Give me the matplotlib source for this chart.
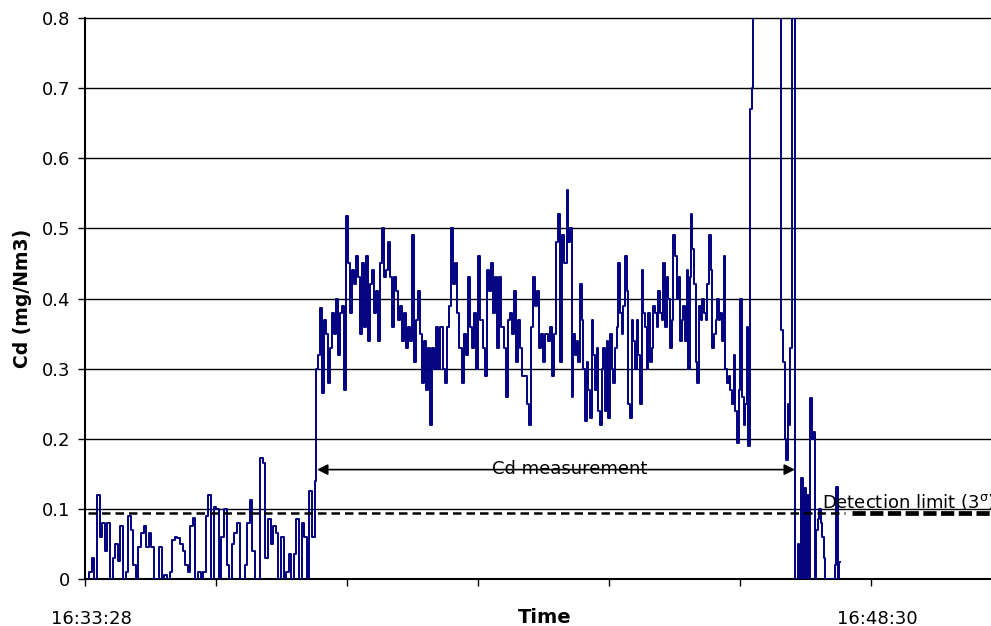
import numpy as np
import matplotlib
matplotlib.use("Agg")
import matplotlib.pyplot as plt
from matplotlib.transforms import ScaledTranslation

# ---------------- data (time in seconds after 16:33:28, Cd in mg/Nm3) ----------------
# background before the measurement (uniformly sampled between the two times)
baseline_span = (3.4, 265.0)
baseline_cd = [0.0, 0.01, 0.03, 0.0, 0.12, 0.06, 0.08, 0.04, 0.08, 0.0,
               0.03, 0.05, 0.025, 0.075, 0.0, 0.01, 0.09, 0.07, 0.02, 0.0,
               0.045, 0.065, 0.075, 0.045, 0.065, 0.045, 0.0, 0.0, 0.045, 0.0,
               0.005, 0.0, 0.01, 0.055, 0.06, 0.058, 0.05, 0.04, 0.02, 0.01,
               0.075, 0.087, 0.0, 0.01, 0.0, 0.01, 0.09, 0.12, 0.0, 0.103,
               0.1, 0.0, 0.06, 0.1, 0.02, 0.0, 0.05, 0.065, 0.08, 0.0,
               0.0, 0.02, 0.08, 0.112, 0.04, 0.0, 0.0, 0.172, 0.165, 0.03,
               0.085, 0.05, 0.075, 0.065, 0.0, 0.06, 0.0, 0.01, 0.035, 0.0,
               0.035, 0.085, 0.0, 0.08, 0.06, 0.0, 0.125, 0.06, 0.14]

meas_a_span = (265.9, 406.6)
meas_a_cd = [0.3, 0.32, 0.386, 0.265, 0.37, 0.35, 0.28, 0.33, 0.38, 0.35,
             0.4, 0.32, 0.38, 0.39, 0.27, 0.517, 0.45, 0.38, 0.44, 0.42,
             0.46, 0.43, 0.35, 0.45, 0.36, 0.46, 0.34, 0.42, 0.44, 0.38,
             0.41, 0.34, 0.45, 0.5, 0.43, 0.44, 0.48, 0.43, 0.36, 0.43,
             0.41, 0.37, 0.39, 0.34, 0.38, 0.33, 0.36, 0.34, 0.49, 0.31,
             0.37, 0.41, 0.35, 0.28, 0.34, 0.27, 0.33, 0.22, 0.33, 0.3,
             0.36, 0.3]

meas_b_span = (409.3, 548.9)
meas_b_cd = [0.36, 0.3, 0.28, 0.36, 0.39, 0.5, 0.42, 0.45, 0.38, 0.33,
             0.28, 0.35, 0.32, 0.43, 0.36, 0.33, 0.38, 0.3, 0.46, 0.37,
             0.33, 0.29, 0.44, 0.41, 0.45, 0.38, 0.43, 0.33, 0.43, 0.36,
             0.33, 0.26, 0.37, 0.38, 0.35, 0.41, 0.31, 0.37, 0.33, 0.29,
             0.29, 0.25, 0.22, 0.36, 0.43, 0.39, 0.41, 0.33, 0.35, 0.31,
             0.35, 0.34, 0.36, 0.29, 0.35, 0.48, 0.52, 0.31, 0.49]

meas_c_span = (551.6, 693.5)
meas_c_cd = [0.45, 0.555, 0.48, 0.5, 0.26, 0.35, 0.32, 0.34, 0.31, 0.42,
             0.37, 0.3, 0.225, 0.31, 0.27, 0.23, 0.37, 0.32, 0.27, 0.33,
             0.24, 0.22, 0.3, 0.33, 0.24, 0.34, 0.23, 0.35, 0.3, 0.28,
             0.33, 0.36, 0.45, 0.38, 0.35, 0.39, 0.46, 0.41, 0.25, 0.23,
             0.37, 0.34, 0.3, 0.37, 0.32, 0.25, 0.44, 0.38, 0.36, 0.3,
             0.38, 0.31, 0.33, 0.39, 0.38, 0.36, 0.41, 0.38, 0.37, 0.45,
             0.36, 0.43, 0.4, 0.33, 0.37, 0.49, 0.46, 0.4, 0.43, 0.34,
             0.37, 0.39, 0.34, 0.44, 0.3]

meas_d_span = (694.3, 762.3)
meas_d_cd = [0.43, 0.52, 0.47, 0.42, 0.31, 0.28, 0.39, 0.37, 0.4, 0.38,
             0.37, 0.42, 0.49, 0.44, 0.33, 0.35, 0.37, 0.4, 0.37, 0.38,
             0.34, 0.46, 0.3, 0.28, 0.29, 0.27, 0.25, 0.32, 0.24, 0.194,
             0.27, 0.4, 0.26, 0.22, 0.25, 0.36, 0.19]

# end of measurement: off-scale peak and return to background (explicit times)
tail_t = [763.9, 766.6, 767.7, 798.7, 799.5, 802.2, 803.9, 805.6, 807.3, 809.0,
          810.2, 811.9, 814.2, 815.3, 817.1, 818.8, 820.5, 822.8, 824.5, 826.3,
          828.0, 829.7, 831.4, 833.1, 834.8, 836.6, 838.3, 840.0, 841.7, 843.5,
          845.2, 846.9, 848.6, 850.4, 855.0, 859.5, 861.3, 863.0, 864.7, 866.4]
tail_cd = [0.67, 0.70, 1.2, 1.2, 0.355, 0.31, 0.2, 0.17, 0.25, 0.22,
           0.33, 1.2, 1.2, 0.0, 0.0, 0.05, 0.0, 0.144, 0.0, 0.13,
           0.0, 0.12, 0.0, 0.258, 0.2, 0.21, 0.0, 0.07, 0.085, 0.1,
           0.08, 0.06, 0.03, 0.0, 0.0, 0.0, 0.02, 0.131, 0.0, 0.024]

detection_limit = 0.094
measurement_window = (266.2, 814.8)
measurement_arrow_level = 0.156

x_ticks = [0, 150.33, 300.67, 451.0, 601.33, 751.67, 902.0]
x_tick_labels = ["16:33:28", "", "", "", "", "", "16:48:30"]
y_ticks = [0, 0.1, 0.2, 0.3, 0.4, 0.5, 0.6, 0.7, 0.8]
y_tick_labels = ["0", "0.1", "0.2", "0.3", "0.4", "0.5", "0.6", "0.7", "0.8"]

# ---------------- build series ----------------
segments = [(baseline_span, baseline_cd), (meas_a_span, meas_a_cd), (meas_b_span, meas_b_cd),
            (meas_c_span, meas_c_cd), (meas_d_span, meas_d_cd)]
t_all, cd_all = [], []
for (t0, t1), vals in segments:
    t_all.extend(np.linspace(t0, t1, len(vals)))
    cd_all.extend(vals)
t_all.extend(tail_t)
cd_all.extend(tail_cd)

# ---------------- figure ----------------
plt.rcParams["font.family"] = ["DejaVu Sans"]
fig = plt.figure(figsize=(9.91, 6.26), dpi=100)
ax = fig.add_axes([85 / 991, 47 / 626, 906 / 991, 561 / 626])
ax.set_xlim(0, 1039.7)
ax.set_ylim(0, 0.8)

for y in y_ticks[1:]:
    ax.axhline(y, color="black", lw=1.0, zorder=1, clip_on=False)

ax.plot(t_all, cd_all, color="#000080", lw=1.4, zorder=3, drawstyle="steps-mid")

# detection limit line: thin dashes then a heavier part on the right
ax.plot([3.4, 872], [detection_limit, detection_limit], color="black", lw=1.8,
        linestyle=(0, (3.4, 2.0)), zorder=4)
ax.plot([880, 1039.7], [detection_limit, detection_limit], color="black", lw=3.4,
        linestyle=(0, (2.8, 0.95)), zorder=4, clip_on=False)
ax.text(845.8, 0.101, "Detection limit (3$^{\\mathregular{σ}}$)", fontsize=13,
        ha="left", va="baseline", zorder=5)

# measurement window arrow
ax.annotate("", xy=(measurement_window[0], measurement_arrow_level),
            xytext=(measurement_window[1], measurement_arrow_level),
            arrowprops=dict(arrowstyle="<|-|>", color="black", lw=1.2,
                            mutation_scale=16, shrinkA=0, shrinkB=0), zorder=5)
ax.text(556.6, 0.1575, "Cd measurement", fontsize=13, ha="center", va="center", zorder=6)

# axes styling
for s in ("top", "right"):
    ax.spines[s].set_visible(False)
ax.spines["left"].set_linewidth(1.5)
ax.spines["bottom"].set_linewidth(1.5)
ax.spines["left"].set_zorder(6)

ax.set_xticks(x_ticks)
ax.set_xticklabels(x_tick_labels, fontsize=13)
ax.set_yticks(y_ticks)
ax.set_yticklabels(y_tick_labels, fontsize=13)
ax.tick_params(axis="x", direction="out", length=5, width=1.0, pad=17)
ax.tick_params(axis="y", direction="out", length=5, width=1.0, pad=5.5)
for lab in ax.get_xticklabels():
    lab.set_transform(lab.get_transform() + ScaledTranslation(6 / 100, 0, fig.dpi_scale_trans))

ax.set_ylabel("Cd (mg/Nm3)", fontsize=13.5, fontweight="bold")
ax.yaxis.set_label_coords(-53 / 906, 0.5)
ax.set_xlabel("Time", fontsize=14, fontweight="bold")
ax.xaxis.set_label_coords((545 - 85) / 906, -29 / 561)

fig.savefig("out.png", dpi=100)
